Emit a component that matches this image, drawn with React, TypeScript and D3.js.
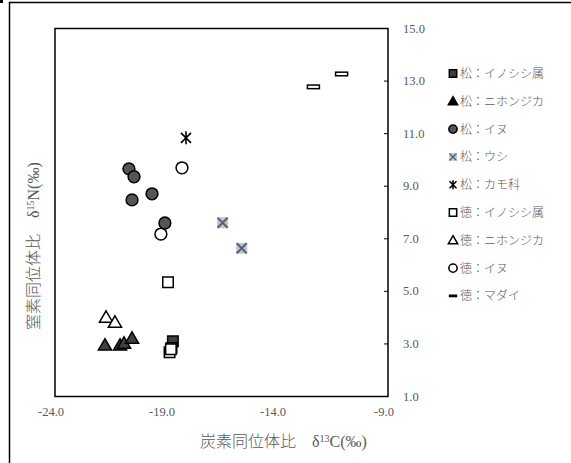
import React from "react";
import * as d3 from "d3";

const xTicks = [-24, -19, -14, -9];
const yTicks = [1, 3, 5, 7, 9, 11, 13, 15];

const matsuInoshishi: [number, number][] = [[-18.69, 3.1], [-18.75, 2.85]];
const matsuNihonjika: [number, number][] = [[-21.75, 2.95], [-21.07, 2.95], [-20.89, 3.02], [-20.53, 3.21]];
const matsuInu: [number, number][] = [[-20.67, 9.66], [-20.44, 9.36], [-19.63, 8.71], [-20.53, 8.48], [-19.05, 7.6]];
const matsuUshi: [number, number][] = [[-16.45, 7.61], [-15.59, 6.64]];
const matsuKamo: [number, number][] = [[-18.1, 10.84]];
const tokuInoshishi: [number, number][] = [[-18.91, 5.35], [-18.84, 2.68], [-18.78, 2.8]];
const tokuNihonjika: [number, number][] = [[-21.7, 4.01], [-21.3, 3.82]];
const tokuInu: [number, number][] = [[-18.28, 9.7], [-19.23, 7.18]];
const tokuMadai: [number, number][] = [[-11.09, 13.27], [-12.36, 12.78]];

const seriesNames = [
  "松：イノシシ属",
  "松：ニホンジカ",
  "松：イヌ",
  "松：ウシ",
  "松：カモ科",
  "徳：イノシシ属",
  "徳：ニホンジカ",
  "徳：イヌ",
  "徳：マダイ",
];

type Kind = "sqD" | "triD" | "cirD" | "ushi" | "ast" | "sqW" | "triW" | "cirW" | "dash";
const kinds: Kind[] = ["sqD", "triD", "cirD", "ushi", "ast", "sqW", "triW", "cirW", "dash"];
const seriesData = [matsuInoshishi, matsuNihonjika, matsuInu, matsuUshi, matsuKamo, tokuInoshishi, tokuNihonjika, tokuInu, tokuMadai];

function Marker({ kind, x, y, s = 1, legend = false }: { kind: Kind; x: number; y: number; s?: number; legend?: boolean }) {
  const t = `translate(${x},${y}) scale(${s})`;
  const dark = "#404040";
  const sw = legend ? 2.2 : 1.5;
  switch (kind) {
    case "sqD":
    case "sqW":
      return <path transform={t} d={d3.symbol(d3.symbolSquare, 110)()!} fill={kind === "sqD" ? dark : "#fff"} stroke="#000" strokeWidth={sw} />;
    case "triD":
    case "triW":
      return <path transform={`translate(${x},${y + 1 * s}) scale(${s})`} d={d3.symbol(d3.symbolTriangle, 75)()!} fill={kind === "triD" ? (legend ? "#000" : dark) : "#fff"} stroke="#000" strokeWidth={sw} strokeLinejoin="miter" />;
    case "cirD":
    case "cirW":
      return <path transform={t} d={d3.symbol(d3.symbolCircle, 110)()!} fill={kind === "cirD" ? "#555" : "#fff"} stroke="#000" strokeWidth={sw} />;
    case "ushi":
      return (
        <g transform={t}>
          <rect x={-5.5} y={-5.5} width={11} height={11} fill="#c3c6cc" />
          <path d="M-5,-5L5,5M-5,5L5,-5" stroke="#56627a" strokeWidth={2} />
        </g>
      );
    case "ast":
      return (
        <g transform={t}>
          <path d="M-5,-5L5,5M-5,5L5,-5M0,-6.5L0,6.5" stroke="#000" strokeWidth={legend ? 2.2 : 1.6} />
        </g>
      );
    case "dash":
      return legend ? (
        <rect transform={t} x={-6} y={-2} width={12} height={4} fill="#000" />
      ) : (
        <rect transform={t} x={-6} y={-1.8} width={12} height={3.6} fill="#fff" stroke="#000" strokeWidth={1.5} />
      );
  }
}

export default function App() {
  const W = 571, H = 463;
  const left = 55, right = 388, top = 28.5, bottom = 396.5;
  const x = d3.scaleLinear().domain([-24, -9]).range([left, right]);
  const y = d3.scaleLinear().domain([1, 15]).range([bottom, top]);
  const serif = "'Liberation Serif', 'DejaVu Serif', serif";
  const jp = "'Noto Sans CJK JP', sans-serif";
  const gray = "#595959";
  return (
    <svg width={W} height={H} style={{ position: "absolute", left: 0, top: 0 }}>
      <rect width={W} height={H} fill="#fff" />
      <path d="M9.5,470V2.5H580" fill="none" stroke="#000" strokeWidth={1.5} />
      <rect x={0} y={0} width={3} height={3} fill="#000" />
      <rect x={left} y={top} width={right - left} height={bottom - top} fill="#fff" stroke="#000" strokeWidth={1.5} />
      {yTicks.map((v) => (
        <g key={v}>
          <line x1={right - 4} x2={right} y1={y(v)} y2={y(v)} stroke="#000" strokeWidth={1} />
          <text x={403} y={y(v) + 4} fontFamily={serif} fontSize={12.5} fill={gray}>{v.toFixed(1)}</text>
        </g>
      ))}
      {xTicks.map((v) => (
        <text key={v} x={x(v) - 4} y={416} textAnchor="middle" fontFamily={serif} fontSize={12.5} fill={gray}>
          {"-" + Math.abs(v).toFixed(1)}
        </text>
      ))}
      <text x={200} y={447} fontSize={16} fill={gray}>
        <tspan fontFamily={jp} fontWeight={300}>炭素同位体比　</tspan>
        <tspan fontFamily={serif}>δ</tspan>
        <tspan fontFamily={serif} fontSize={10} dy={-5}>13</tspan>
        <tspan fontFamily={serif} dy={5}>C(‰)</tspan>
      </text>
      <text transform="translate(39,330) rotate(-90)" fontSize={16} fill={gray}>
        <tspan fontFamily={jp} fontWeight={300}>窒素同位体比　</tspan>
        <tspan fontFamily={serif}>δ</tspan>
        <tspan fontFamily={serif} fontSize={10} dy={-5}>15</tspan>
        <tspan fontFamily={serif} dy={5}>N(‰)</tspan>
      </text>
      {seriesData.map((pts, i) => (
        <g key={i}>
          {pts.map((p, j) => (
            <Marker key={j} kind={kinds[i]} x={x(p[0])} y={y(p[1])} />
          ))}
        </g>
      ))}
      {seriesNames.map((n, i) => {
        const ly = 73.5 + i * 27.8;
        return (
          <g key={n}>
            <Marker kind={kinds[i]} x={453} y={ly} s={0.7} legend />
            <text x={460} y={ly + 4.5} fontFamily={jp} fontSize={12} fill={gray} fontWeight={300}>{n}</text>
          </g>
        );
      })}
    </svg>
  );
}
